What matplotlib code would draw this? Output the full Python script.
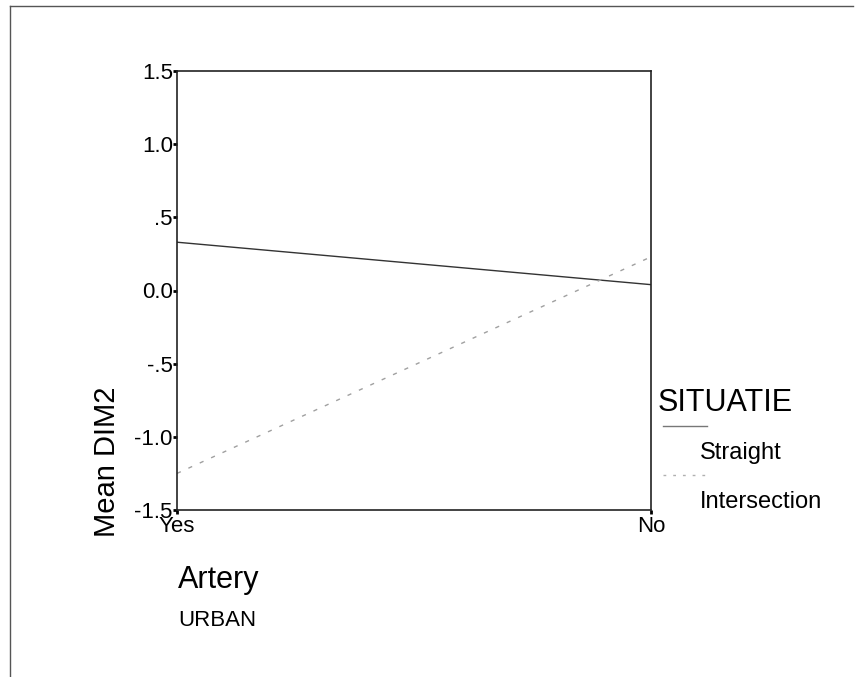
import matplotlib
matplotlib.use("Agg")
import matplotlib.pyplot as plt
from matplotlib.lines import Line2D

categories = ["Yes", "No"]
straight = [0.33, 0.04]
intersection = [-1.25, 0.23]
yticks = [-1.5, -1.0, -0.5, 0.0, 0.5, 1.0, 1.5]
ytick_labels = ["-1.5", "-1.0", "-.5", "0.0", ".5", "1.0", "1.5"]
series_names = ["Straight", "Intersection"]

plt.rcParams['font.family'] = ['Liberation Sans', 'DejaVu Sans']

W, H = 855, 677
fig = plt.figure(figsize=(W / 100, H / 100), dpi=100)

def fx(x):
    return x / W

def fy(y):
    return 1 - y / H

ax = fig.add_axes([fx(177), fy(510), fx(651) - fx(177), fy(71) - fy(510)])
x = list(range(len(categories)))
ax.plot(x, straight, color="#333333", lw=1.0, solid_capstyle="butt")
ax.plot(x, intersection, color="#a0a0a0", lw=1.0, linestyle=(0, (3, 6)))
ax.set_xlim(0, 1)
ax.set_ylim(-1.5, 1.5)
ax.set_xticks(x)
ax.set_xticklabels(categories, fontsize=16)
ax.set_yticks(yticks)
ax.set_yticklabels(ytick_labels, fontsize=16)
ax.tick_params(axis="y", direction="out", length=3, width=2, pad=0)
ax.tick_params(axis="x", direction="out", length=3, width=2, pad=1)
for s in ax.spines.values():
    s.set_linewidth(1.2)
    s.set_color("#222222")

# axis labels
fig.text(fx(107), fy(462), "Mean DIM2", rotation=90, fontsize=21,
         ha="center", va="center")
fig.text(fx(178), fy(580), "Artery", fontsize=22, ha="left", va="center")
fig.text(fx(178), fy(620), "URBAN", fontsize=16, ha="left", va="center")

# legend
fig.text(fx(658), fy(403), "SITUATIE", fontsize=22, ha="left", va="center")
fig.add_artist(Line2D([fx(663), fx(707)], [fy(426), fy(426)],
                      transform=fig.transFigure, color="#777777", lw=1.0))
fig.add_artist(Line2D([fx(663), fx(707)], [fy(475), fy(475)],
                      transform=fig.transFigure, color="#b0b0b0", lw=1.0,
                      linestyle=(0, (2, 5))))
fig.text(fx(700), fy(453), series_names[0], fontsize=17, ha="left", va="center")
fig.text(fx(700), fy(502), series_names[1], fontsize=17, ha="left", va="center")

# outer frame
fig.add_artist(Line2D([fx(10), fx(853)], [fy(6), fy(6)],
                      transform=fig.transFigure, color="#555555", lw=1.0))
fig.add_artist(Line2D([fx(10), fx(10)], [fy(6), fy(677)],
                      transform=fig.transFigure, color="#555555", lw=1.0))

fig.savefig("out.png", dpi=100)
